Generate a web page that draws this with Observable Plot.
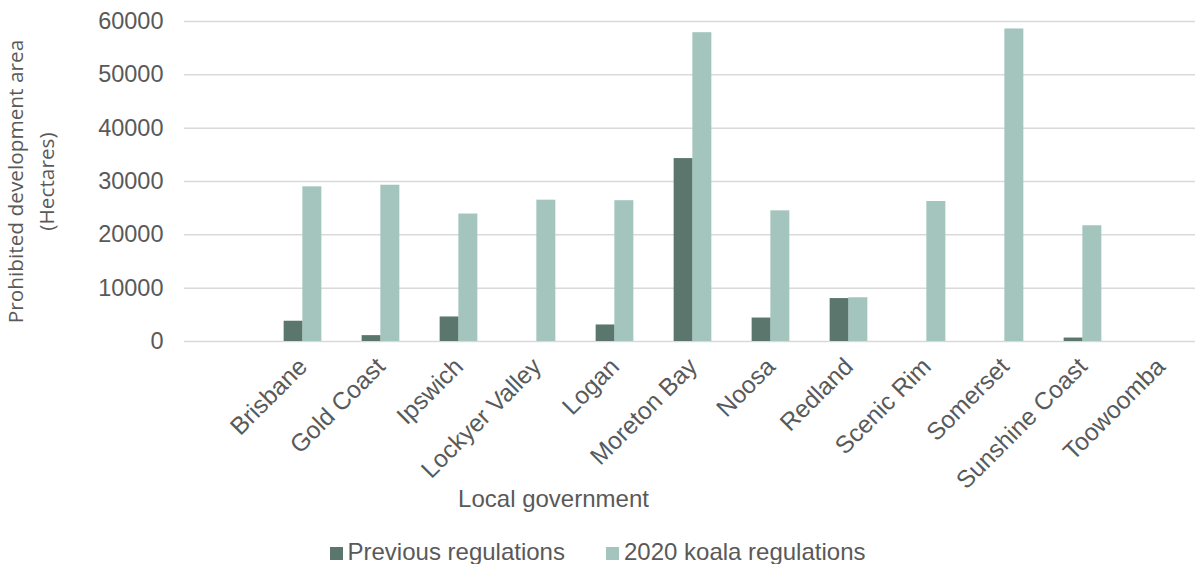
<!DOCTYPE html>
<html>
<head>
<meta charset="utf-8">
<script src="https://cdn.jsdelivr.net/npm/d3@7"></script>
<script src="https://cdn.jsdelivr.net/npm/@observablehq/plot@0.6"></script>
<style>
  html, body { margin: 0; padding: 0; background: #fff; overflow: hidden; }
  #wrap { width: 1195px; height: 564px; position: relative; overflow: hidden; }
  .legend { position: absolute; left: 0; top: 538px; width: 1195px; display: flex; justify-content: center;
    gap: 41px; font-family: "Liberation Sans", Arial, sans-serif; font-size: 24px; color: #595959; }
  .legend .item { display: flex; align-items: center; }
  .legend .sw { width: 13px; height: 13px; margin-right: 5px; margin-top: 3px; }
</style>
</head>
<body>
<div id="wrap"></div>
<script>
const categories = ["Brisbane", "Gold Coast", "Ipswich", "Lockyer Valley", "Logan", "Moreton Bay",
  "Noosa", "Redland", "Scenic Rim", "Somerset", "Sunshine Coast", "Toowoomba"];
const previousRegulations = [3800, 1100, 4600, 0, 3100, 34300, 4400, 8050, 0, 0, 650, 0];
const koalaRegulations2020 = [29000, 29300, 23900, 26500, 26400, 57900, 24500, 8200, 26250, 58600, 21700, 0];
const yTicks = [0, 10000, 20000, 30000, 40000, 50000, 60000];
const seriesNames = ["Previous regulations", "2020 koala regulations"];
const seriesColors = ["#5b766d", "#a3c5bd"];

const prevRows = categories.map((c, i) => ({category: c, value: previousRegulations[i]}));
const newRows = categories.map((c, i) => ({category: c, value: koalaRegulations2020[i]}));

const font = '"Liberation Sans", Arial, sans-serif';
const textColor = "#595959";

const chart = Plot.plot({
  width: 1195,
  height: 530,
  marginLeft: 184,
  marginRight: 0,
  marginTop: 21,
  marginBottom: 189,
  style: {fontFamily: font, color: textColor, background: "#fff", overflow: "hidden"},
  x: {type: "band", domain: ["", ...categories], range: [184, 1201.4], paddingInner: 0.761, paddingOuter: 0.3805},
  y: {domain: [0, 60000]},
  marks: [
    Plot.gridY(yTicks, {stroke: "#d9d9d9", strokeOpacity: 1, strokeWidth: 1.5}),
    Plot.barY(prevRows, {x: "category", y: "value", fill: seriesColors[0], dx: -9.35}),
    Plot.barY(newRows, {x: "category", y: "value", fill: seriesColors[1], dx: 9.35}),
    Plot.axisY(yTicks, {tickSize: 0, tickPadding: 21, fontSize: 23.5, fill: textColor, tickFormat: d3.format("d"), label: null}),
    Plot.axisX(categories, {tickSize: 0, tickRotate: -45, tickPadding: 21, fontSize: 24.5, fill: textColor, label: null}),
    Plot.text(["Prohibited development area\n(Hectares)"], {
      frameAnchor: "left", rotate: -90, dx: -156, fontSize: 20.8, lineHeight: 1.49, textAnchor: "middle", lineAnchor: "middle",
      fontFamily: '"Open Sans", sans-serif', fill: textColor
    }),
    Plot.text(["Local government"], {
      frameAnchor: "bottom-left", dx: 369, dy: 158, fontSize: 24, fill: textColor, textAnchor: "middle", lineAnchor: "middle"
    })
  ]
});
const wrap = document.getElementById("wrap");
wrap.appendChild(chart);

const legend = document.createElement("div");
legend.className = "legend";
seriesNames.forEach((name, i) => {
  const item = document.createElement("div");
  item.className = "item";
  const sw = document.createElement("span");
  sw.className = "sw";
  sw.style.background = seriesColors[i];
  const label = document.createElement("span");
  label.textContent = name;
  item.appendChild(sw);
  item.appendChild(label);
  legend.appendChild(item);
});
wrap.appendChild(legend);
</script>
</body>
</html>
